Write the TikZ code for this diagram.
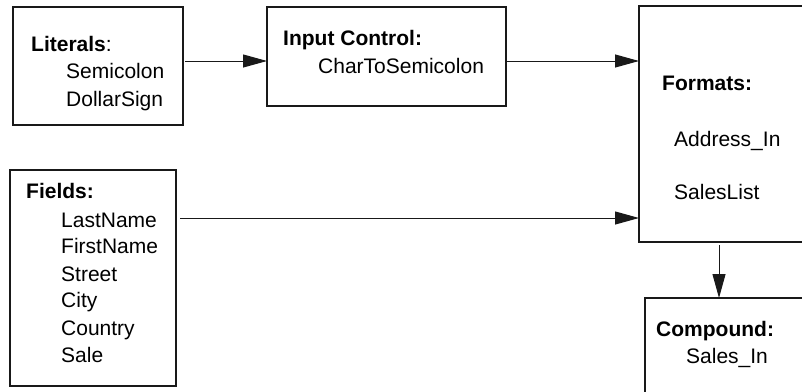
\documentclass[tikz,border=0pt]{standalone}
\usepackage{fontspec}
\setmainfont{Liberation Sans}
\usetikzlibrary{arrows.meta}
\begin{document}
\begin{tikzpicture}[x=1pt,y=-1pt,
  box/.style={draw=black!90, line width=1.2pt, anchor=north west, inner sep=0pt, outer sep=0pt},
  txt/.style={anchor=base west, inner sep=0pt, font=\fontsize{21}{24}\selectfont, text=black},
  arr/.style={draw=black!90, line width=1pt, -{Triangle[length=24pt,width=13pt]}}]
\useasboundingbox (0,0) rectangle (802,391);
\clip (0,0) rectangle (802,391);
% boxes
\node[box, minimum width=170, minimum height=118] (lit) at (13,7) {};
\node[box, minimum width=239, minimum height=99] (ic) at (267,7) {};
\node[box, minimum width=200, minimum height=236] (fmt) at (639,6) {};
\node[box, minimum width=166, minimum height=216] (fld) at (10,170) {};
\node[box, minimum width=200, minimum height=120] (cmp) at (645,298) {};
% texts
\node[txt] (t1) at (31,51) {\textbf{Literals}:};
\node[txt] (t2) at (66,78) {Semicolon};
\node[txt] (t3) at (66,106) {DollarSign};
\node[txt] (t4) at (283,45) {\textbf{Input Control:}};
\node[txt] (t5) at (318,73) {CharToSemicolon};
\node[txt] (t6) at (662,90) {\textbf{Formats:}};
\node[txt] (t7) at (674,146) {Address\_In};
\node[txt] (t8) at (674,199) {SalesList};
\node[txt] (t9) at (26,198) {\textbf{Fields:}};
\node[txt] (t10) at (61,227) {LastName};
\node[txt] (t11) at (61,253) {FirstName};
\node[txt] (t12) at (61,281) {Street};
\node[txt] (t13) at (61,307) {City};
\node[txt] (t14) at (61,335) {Country};
\node[txt] (t15) at (61,362) {Sale};
\node[txt] (t16) at (656,336) {\textbf{Compound:}};
\node[txt] (t17) at (686,363) {Sales\_In};
% connectors
\draw[arr] ([xshift=2pt]lit.east |- 0,61) -- (ic.west |- 0,61);
\draw[arr] (ic.east |- 0,61) -- (fmt.west |- 0,61);
\draw[arr] ([xshift=4pt]fld.east |- 0,218) -- (fmt.west |- 0,218);
\draw[arr] ([yshift=-3pt]fmt.south -| 719,0) -- (cmp.north -| 719,0);
\end{tikzpicture}
\end{document}
